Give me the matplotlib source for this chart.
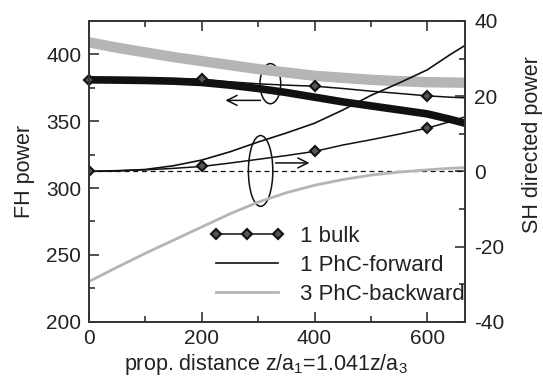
import matplotlib
matplotlib.use("Agg")
from matplotlib import pyplot as plt
from matplotlib.patches import Ellipse
from matplotlib.ticker import MultipleLocator

plt.rcParams['font.family'] = ['Liberation Sans', 'DejaVu Sans']
plt.rcParams['mathtext.default'] = 'regular'
plt.rcParams['axes.unicode_minus'] = False

# propagation distance z/a1
z = [0, 50, 100, 150, 200, 250, 300, 350, 400, 450, 500, 550, 600, 640, 667]

# FH power (left axis)
fh_back = [409, 405, 401.5, 398, 395, 392, 389, 386.5, 384, 382.5, 381, 380, 379.2, 379, 378.8]
fh_fwd = [381, 380.8, 380.5, 380, 379, 377, 374.5, 371.5, 368, 364.5, 361.5, 358.5, 355.5, 351.5, 348.5]
fh_bulk = [381, 381.2, 381.4, 381.5, 381.5, 379.5, 378, 377, 376.2, 374.5, 372.5, 370.8, 369, 368, 367.5]

# SH directed power (right axis)
sh_back = [-29.3, -25.5, -21.8, -18.3, -14.8, -11.3, -8.2, -5.7, -3.7, -2.2, -1.0, -0.2, 0.4, 0.8, 1.0]
sh_fwd = [0, 0.1, 0.5, 1.5, 3.0, 5.2, 7.8, 10.2, 12.8, 16.3, 20.2, 23.5, 27.0, 31.0, 33.5]
sh_bulk = [0, 0.2, 0.4, 0.8, 1.3, 2.2, 3.2, 4.2, 5.3, 7.0, 8.4, 9.9, 11.5, 13.2, 14.5]
mark_idx = [0, 4, 8, 12]

gray = '#b3b5b7'
ink = '#222222'

fig = plt.figure(figsize=(5.43, 3.77), dpi=100)
ax = fig.add_axes([0.1639, 0.1467, 0.6925, 0.7976])
ax2 = ax.twinx()

ax.plot(z, fh_back, color=gray, lw=7.5, solid_capstyle='butt')
ax.plot(z, fh_fwd, color='#111111', lw=5.5, solid_capstyle='butt')
ax.plot(z, fh_bulk, color='#111111', lw=1.1, marker='D', ms=5, mfc='#555555',
        mec='#111111', mew=1.5, markevery=mark_idx, clip_on=False)

ax2.axhline(0, color='#111111', lw=0.9, ls=(0, (4, 3)))
ax2.plot(z, sh_back, color=gray, lw=2, label='3 PhC-backward')
ax2.plot(z, sh_fwd, color='#111111', lw=1.2, label='1 PhC-forward')
ax2.plot(z, sh_bulk, color='#111111', lw=1.1, marker='D', ms=5, mfc='#555555',
         mec='#111111', mew=1.5, markevery=mark_idx, label='1 bulk')

# ellipses and arrows marking which axis each group belongs to
ax.add_patch(Ellipse((321.7, 378.1), 36.7, 30, fill=False, lw=1.1, ec='#111111'))
ax.add_patch(Ellipse((304.4, 312.8), 43.3, 53, fill=False, lw=1.1, ec='#111111'))
ax.annotate('', xy=(237, 365.6), xytext=(309, 365.6),
            arrowprops=dict(arrowstyle='->', lw=1.1, color='#111111', mutation_scale=18))
ax.annotate('', xy=(396, 318.8), xytext=(326, 318.8),
            arrowprops=dict(arrowstyle='->', lw=1.1, color='#111111', mutation_scale=18))

ax.set_xlim(0, 667)
ax.set_ylim(200, 425)
ax2.set_ylim(-40, 40)

ax.xaxis.set_major_locator(MultipleLocator(200))
ax.xaxis.set_minor_locator(MultipleLocator(100))
ax.yaxis.set_major_locator(MultipleLocator(50))
ax.yaxis.set_minor_locator(MultipleLocator(25))
ax2.yaxis.set_major_locator(MultipleLocator(20))
ax2.yaxis.set_minor_locator(MultipleLocator(10))

ax.tick_params(axis='x', which='both', direction='in', top=True, labelsize=15,
               colors=ink, pad=5)
ax.tick_params(axis='y', which='both', direction='in', right=False, labelsize=15,
               colors=ink, pad=5.5)
ax2.tick_params(axis='y', which='both', direction='in', labelsize=15,
                colors=ink, pad=6.5)
for a in (ax, ax2):
    a.tick_params(which='major', length=7, width=1.1)
    a.tick_params(which='minor', length=4, width=1.1)
    for s in a.spines.values():
        s.set_linewidth(1.2)
        s.set_color('#333333')

ax.set_ylabel('FH power', fontsize=15.5, color=ink)
ax.yaxis.set_label_coords(-0.143, 0.5)
ax2.set_ylabel('SH directed power', fontsize=15.5, color=ink)
ax2.yaxis.set_label_coords(1.152, 0.59)
ax.set_xlabel('prop. distance z/a$_1$=1.041z/a$_3$', fontsize=15.5, color=ink)
ax.xaxis.set_label_coords(0.47, -0.1)

h, l = ax2.get_legend_handles_labels()
leg = ax2.legend(h[::-1], l[::-1], loc='upper left', bbox_to_anchor=(0.297, 0.347),
                 frameon=False, fontsize=16, handlelength=3.4, handletextpad=0.68,
                 labelspacing=0.36, borderaxespad=0, numpoints=3)
for t in leg.get_texts():
    t.set_color(ink)

fig.savefig('out.png', dpi=100)
